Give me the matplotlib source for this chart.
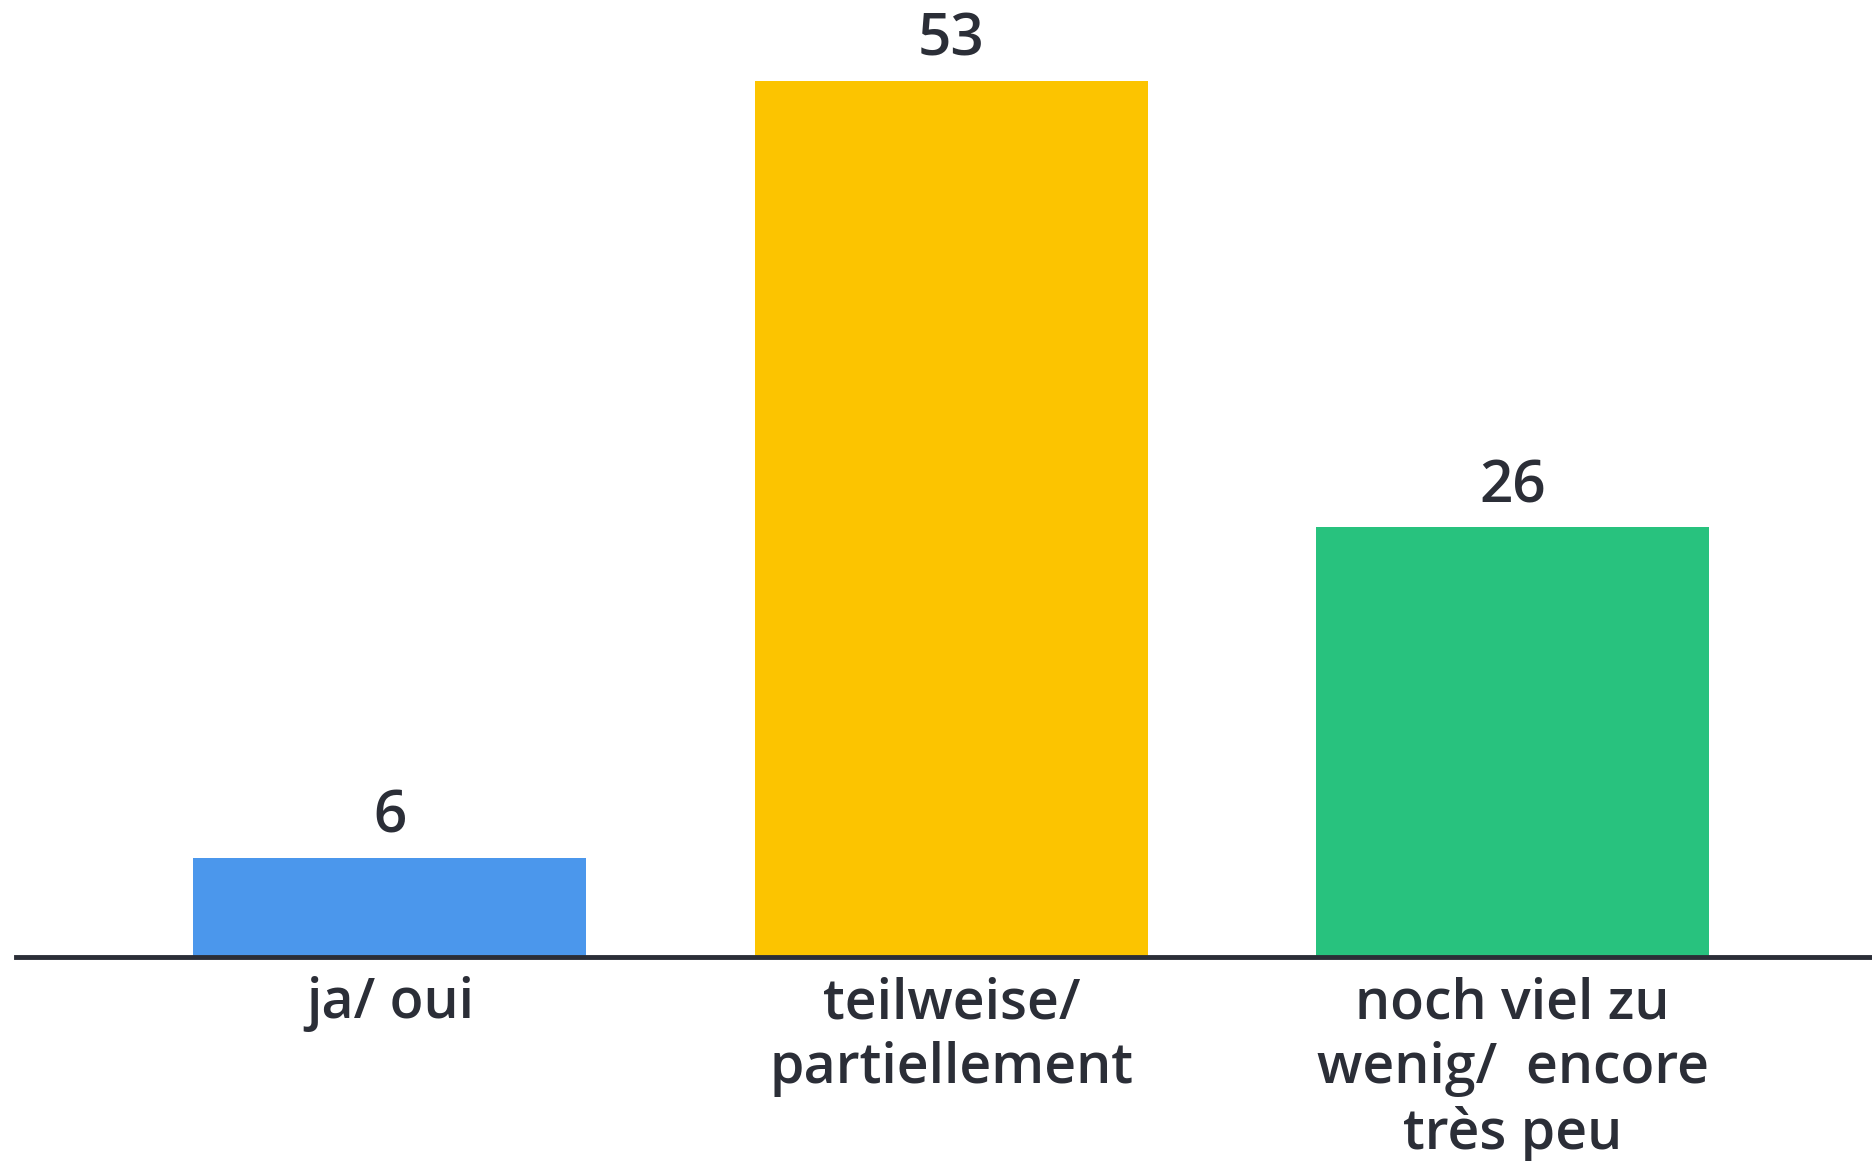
import matplotlib.pyplot as plt

# Survey answers (percent)
categories = ["ja/ oui", "teilweise/\npartiellement", "noch viel zu\nwenig/  encore\ntrès peu"]
values = [6, 53, 26]
colors = ["#4B97EC", "#FCC400", "#28C27E"]

text_color = "#2B2E37"
plt.rcParams['font.family'] = ['Open Sans', 'DejaVu Sans']

fig = plt.figure(figsize=(18.72, 11.61), dpi=100)
ax = fig.add_axes([0.0085, 0.1757, 0.9915, 0.8243])

x = range(len(values))
bars = ax.bar(x, values, width=0.70, color=colors, zorder=2)

for b, v in zip(bars, values):
    ax.annotate(str(v), (b.get_x() + b.get_width() / 2, b.get_height()),
                xytext=(0, 8), textcoords="offset points",
                ha="center", va="bottom", fontsize=42, fontweight="semibold",
                color=text_color)

ax.set_xlim(-0.666, 2.64)
ax.set_ylim(0, 57.9)
ax.set_xticks(list(x))
ax.set_xticklabels(categories, fontsize=40, color=text_color, linespacing=1.21,
                   fontweight="semibold")
ax.tick_params(axis="x", length=0, pad=14)
ax.set_yticks([])

for side in ["top", "right", "left"]:
    ax.spines[side].set_visible(False)
ax.spines["bottom"].set_linewidth(3.5)
ax.spines["bottom"].set_color(text_color)
ax.spines["bottom"].set_zorder(3)

fig.savefig("out.png", dpi=100)
